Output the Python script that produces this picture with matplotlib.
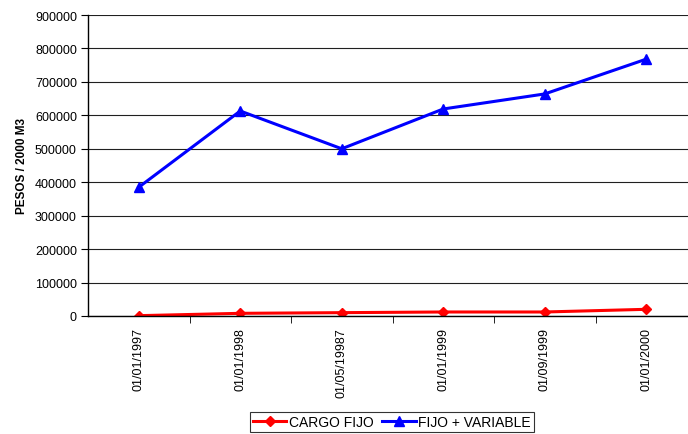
import matplotlib.pyplot as plt
from matplotlib.ticker import FixedLocator

plt.rcParams['font.family'] = ['Liberation Sans', 'DejaVu Sans']

fechas = ['01/01/1997', '01/01/1998', '01/05/19987', '01/01/1999', '01/09/1999', '01/01/2000']
cargo_fijo = [1000, 8000, 10000, 12000, 12000, 20000]
fijo_variable = [385000, 613000, 500000, 619000, 664000, 768000]
yticks = [0, 100000, 200000, 300000, 400000, 500000, 600000, 700000, 800000, 900000]

fig = plt.figure(figsize=(6.88, 4.35), dpi=100)
ax = fig.add_axes([88/688, 118/435, 609/688, 301/435])

x = list(range(len(fechas)))
ax.plot(x, cargo_fijo, color='#ff0000', lw=2.2, marker='D', ms=5.5, label='CARGO FIJO')
ax.plot(x, fijo_variable, color='#0000ff', lw=2.2, marker='^', ms=6.5, label='FIJO + VARIABLE')

ax.set_xlim(-0.5, len(fechas) - 0.5)
ax.set_ylim(0, 900000)
ax.set_yticks(yticks)
ax.set_yticklabels([str(v) for v in yticks], fontsize=9)
ax.yaxis.grid(True, color='#202020', lw=0.8)
ax.set_axisbelow(True)

ax.set_xticks(x)
ax.set_xticklabels(fechas, rotation=90, fontsize=9)
ax.tick_params(axis='x', which='major', length=0, pad=8)
ax.xaxis.set_minor_locator(FixedLocator([i + 0.5 for i in range(len(fechas) - 1)]))
ax.tick_params(axis='x', which='minor', length=5, color='black')
ax.tick_params(axis='y', length=5, color='black', pad=3)

for s in ['top', 'right']:
    ax.spines[s].set_visible(False)
for s in ['left', 'bottom']:
    ax.spines[s].set_color('black')
    ax.spines[s].set_linewidth(1)

ax.set_ylabel('PESOS / 2000 M3', fontsize=8.5, fontweight='bold', labelpad=5)

leg = fig.legend(loc='center', bbox_to_anchor=(392/688, 1 - 423/435), ncol=2, fontsize=10,
                 frameon=True, fancybox=False, edgecolor='black', handlelength=2.4,
                 handletextpad=0.2, columnspacing=0.6, borderpad=0.2)
leg.get_frame().set_linewidth(0.8)

fig.savefig('out.png', dpi=100)
